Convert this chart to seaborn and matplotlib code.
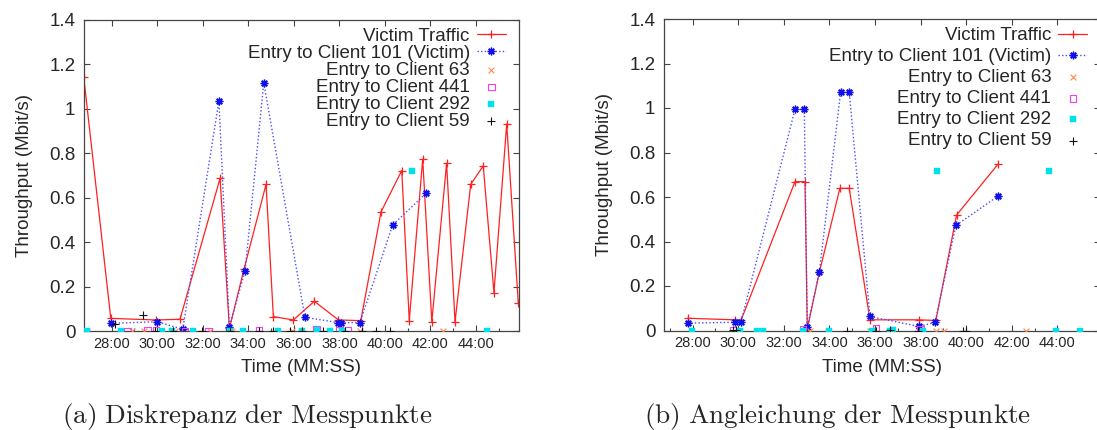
import numpy as np
import pandas as pd
import matplotlib
matplotlib.use("Agg")
import matplotlib.pyplot as plt
import seaborn as sns

# ---------------- data (time in minutes, throughput in Mbit/s) ----------------
# Panel (a): Diskrepanz der Messpunkte
victim_t_a = [26.77, 27.96, 29.95, 31.00, 32.76, 33.17, 33.81, 34.78, 35.10, 35.98, 36.90, 37.96, 38.94,
              39.83, 40.74, 41.07, 41.66, 42.06, 42.71, 43.08, 43.77, 44.32, 44.79, 45.35, 45.86]
victim_v_a = [1.145, 0.058, 0.051, 0.054, 0.688, 0.013, 0.279, 0.661, 0.066, 0.051, 0.135, 0.051, 0.048,
              0.537, 0.723, 0.048, 0.774, 0.043, 0.756, 0.043, 0.661, 0.744, 0.174, 0.932, 0.126]
c101_t_a = [27.99, 30.00, 31.12, 32.71, 33.17, 33.86, 34.68, 36.49, 37.96, 38.05, 38.90, 40.34, 41.81]
c101_v_a = [0.036, 0.043, 0.009, 1.036, 0.021, 0.273, 1.118, 0.063, 0.039, 0.039, 0.039, 0.478, 0.621]
c63_t_a = [28.88, 29.42, 30.78, 32.32, 33.27, 35.91, 38.91, 42.54]
c63_v_a = [0.0, 0.0, 0.0, 0.002, 0.002, 0.0, 0.0, 0.0]
c441_t_a = [28.69, 29.57, 29.95, 31.22, 32.25, 34.47, 37.00, 38.00, 38.37]
c441_v_a = [0.0, 0.004, 0.004, 0.0, 0.0, 0.005, 0.010, 0.004, 0.004]
c292_t_a = [26.90, 28.41, 30.20, 30.64, 31.59, 33.20, 33.75, 35.32, 36.37, 37.00, 37.59, 38.10, 41.18, 44.47]
c292_v_a = [0.0, 0.0, 0.0, 0.0, 0.0, 0.0, 0.0, 0.0, 0.0, 0.005, 0.0, 0.0, 0.721, 0.0]
c59_t_a = [28.15, 29.39, 29.90, 30.71, 31.95, 33.20, 34.49, 35.10, 35.83, 36.37, 37.30, 38.25, 38.98, 39.61, 40.23]
c59_v_a = [0.033, 0.073, 0.0, 0.0, 0.003, 0.0, 0.003, 0.0, 0.0, 0.0, 0.002, 0.0, 0.0, 0.0, 0.0]

# Panel (b): Angleichung der Messpunkte
victim_t_b = [27.78, 29.86, 30.12, 32.49, 32.93, 33.03, 33.56, 34.46, 34.87, 35.78, 37.94, 38.67, 39.58, 41.41]
victim_v_b = [0.055, 0.048, 0.045, 0.669, 0.669, 0.007, 0.262, 0.639, 0.639, 0.048, 0.048, 0.045, 0.519, 0.749]
c101_t_b = [27.78, 29.86, 30.12, 32.49, 32.90, 33.03, 33.56, 34.49, 34.87, 35.78, 37.94, 38.64, 39.55, 41.41]
c101_v_b = [0.033, 0.037, 0.037, 0.994, 0.994, 0.015, 0.263, 1.070, 1.070, 0.063, 0.018, 0.037, 0.472, 0.605]
c63_t_b = [33.15, 35.78, 38.67, 39.02, 42.62]
c63_v_b = [0.0, 0.0, 0.0, 0.0, 0.0]
c441_t_b = [29.78, 32.85, 36.04, 38.00]
c441_v_b = [0.003, 0.005, 0.010, 0.004]
c292_t_b = [27.96, 30.08, 30.84, 31.10, 32.85, 33.99, 35.85, 36.65, 36.77, 38.09, 38.70, 43.63, 43.94, 44.99]
c292_v_b = [0.0, 0.0, 0.0, 0.0, 0.0, 0.0, 0.0, 0.0, 0.002, 0.0, 0.716, 0.716, 0.0, 0.0]
c59_t_b = [29.78, 29.90, 34.78, 36.04, 36.65, 37.90, 39.87, 39.99]
c59_v_b = [0.002, 0.004, 0.0, 0.0, 0.002, 0.0, 0.0, 0.0]

labels = ["Victim Traffic", "Entry to Client 101 (Victim)", "Entry to Client 63",
          "Entry to Client 441", "Entry to Client 292", "Entry to Client 59"]
x_ticks = [28, 30, 32, 34, 36, 38, 40, 42, 44]
x_ticklabels = ["28:00", "30:00", "32:00", "34:00", "36:00", "38:00", "40:00", "42:00", "44:00"]
y_ticks = [0, 0.2, 0.4, 0.6, 0.8, 1.0, 1.2, 1.4]
y_ticklabels = ["0", "0.2", "0.4", "0.6", "0.8", "1", "1.2", "1.4"]
captions = [r"$\mathrm{(a)\ Diskrepanz\ der\ Messpunkte}$",
            r"$\mathrm{(b)\ Angleichung\ der\ Messpunkte}$"]

# ---------------- style ----------------
sns.set_style("ticks")
plt.rcParams["font.family"] = ["Liberation Sans", "DejaVu Sans"]
plt.rcParams["mathtext.fontset"] = "cm"

W, H = 1097, 430
fig = plt.figure(figsize=(W / 100, H / 100), dpi=100)
ax_a = fig.add_axes([83.7 / W, 1 - 331.3 / H, 435.3 / W, 311.3 / H])
ax_b = fig.add_axes([663.7 / W, 1 - 330.5 / H, 436.7 / W, 311.5 / H])

RED = "#ff2020"
BLUE_LINE = "#4a4aff"
BLUE_MK = "#1010e8"
ORANGE = "#ff8a50"
MAGENTA = "#f040f0"
CYAN = "#00e0e8"
BLACK = "#111111"


def draw(ax, vt, vv, bt, bv, ot, ov, mt, mv, ct, cv, kt, kv, spacing, xmin, top_px):
    sns.lineplot(x=vt, y=vv, ax=ax, sort=False, estimator=None, color=RED, lw=0.9,
                 marker="+", markersize=6, markeredgewidth=0.9, markeredgecolor=RED,
                 label=labels[0])
    sns.lineplot(x=bt, y=bv, ax=ax, sort=False, estimator=None, color=BLUE_LINE, lw=1.0,
                 linestyle=(0, (1.0, 1.6)), marker=(8, 2, 0), markersize=5.5,
                 markeredgewidth=1.0, markeredgecolor=BLUE_MK, markerfacecolor=BLUE_MK,
                 label=labels[1])
    sns.scatterplot(x=ot, y=ov, ax=ax, marker="x", s=18, color=ORANGE, linewidth=0.8,
                    label=labels[2], zorder=3)
    sns.scatterplot(x=mt, y=mv, ax=ax, marker="s", s=22, facecolors="none", edgecolor=MAGENTA,
                    linewidth=0.8, label=labels[3], zorder=3)
    sns.scatterplot(x=ct, y=cv, ax=ax, marker="s", s=14, color=CYAN, edgecolor=CYAN,
                    linewidth=0.3, label=labels[4], zorder=3)
    sns.scatterplot(x=kt, y=kv, ax=ax, marker="+", s=28, color=BLACK, linewidth=0.8,
                    label=labels[5], zorder=3)

    ax.set_xlim(xmin, 45.89)
    ax.set_ylim(0, 1.4)
    ax.set_xticks(x_ticks)
    ax.set_xticklabels(x_ticklabels, fontsize=10.5)
    ax.set_xticks(np.arange(27, 46, 2), minor=True)
    ax.set_yticks(y_ticks)
    ax.set_yticklabels(y_ticklabels, fontsize=13.5)
    ax.tick_params(axis="both", which="major", direction="in", length=4, width=0.8,
                   color="#444444", top=True, right=True)
    ax.tick_params(axis="x", which="major", pad=4)
    ax.tick_params(axis="y", which="major", pad=6)
    ax.tick_params(axis="x", which="minor", direction="in", length=2.5, width=0.8,
                   color="#444444", top=False, bottom=True)
    for sp in ax.spines.values():
        sp.set_color("#444444")
        sp.set_linewidth(0.9)
    ax.set_xlabel("Time (MM:SS)", fontsize=13.5)
    ax.set_ylabel("Throughput (Mbit/s)", fontsize=13.5)
    ax.xaxis.set_label_coords(0.5, -0.09)
    ax.yaxis.set_label_coords(-0.116, 0.5)
    ax.grid(False)

    wpx = ax.get_position().width * W
    hpx = ax.get_position().height * H
    leg = ax.legend(loc="upper right", bbox_to_anchor=(1 - 13 / wpx, 1 - top_px / hpx),
                    frameon=False, markerfirst=False, fontsize=13.5, borderpad=0,
                    borderaxespad=0, handlelength=1.55, handletextpad=0.38,
                    labelspacing=spacing, numpoints=1, scatterpoints=1)
    return leg


draw(ax_a, victim_t_a, victim_v_a, c101_t_a, c101_v_a, c63_t_a, c63_v_a, c441_t_a, c441_v_a,
     c292_t_a, c292_v_a, c59_t_a, c59_v_a, spacing=0.0, xmin=26.77, top_px=7.5)
draw(ax_b, victim_t_b, victim_v_b, c101_t_b, c101_v_b, c63_t_b, c63_v_b, c441_t_b, c441_v_b,
     c292_t_b, c292_v_b, c59_t_b, c59_v_b, spacing=0.21, xmin=26.73, top_px=8.0)

fig.text(247 / W, 1 - 416 / H, captions[0], fontsize=19.6, ha="center", va="center")
fig.text(838 / W, 1 - 416 / H, captions[1], fontsize=19.6, ha="center", va="center")

fig.savefig("out.png", dpi=100)
